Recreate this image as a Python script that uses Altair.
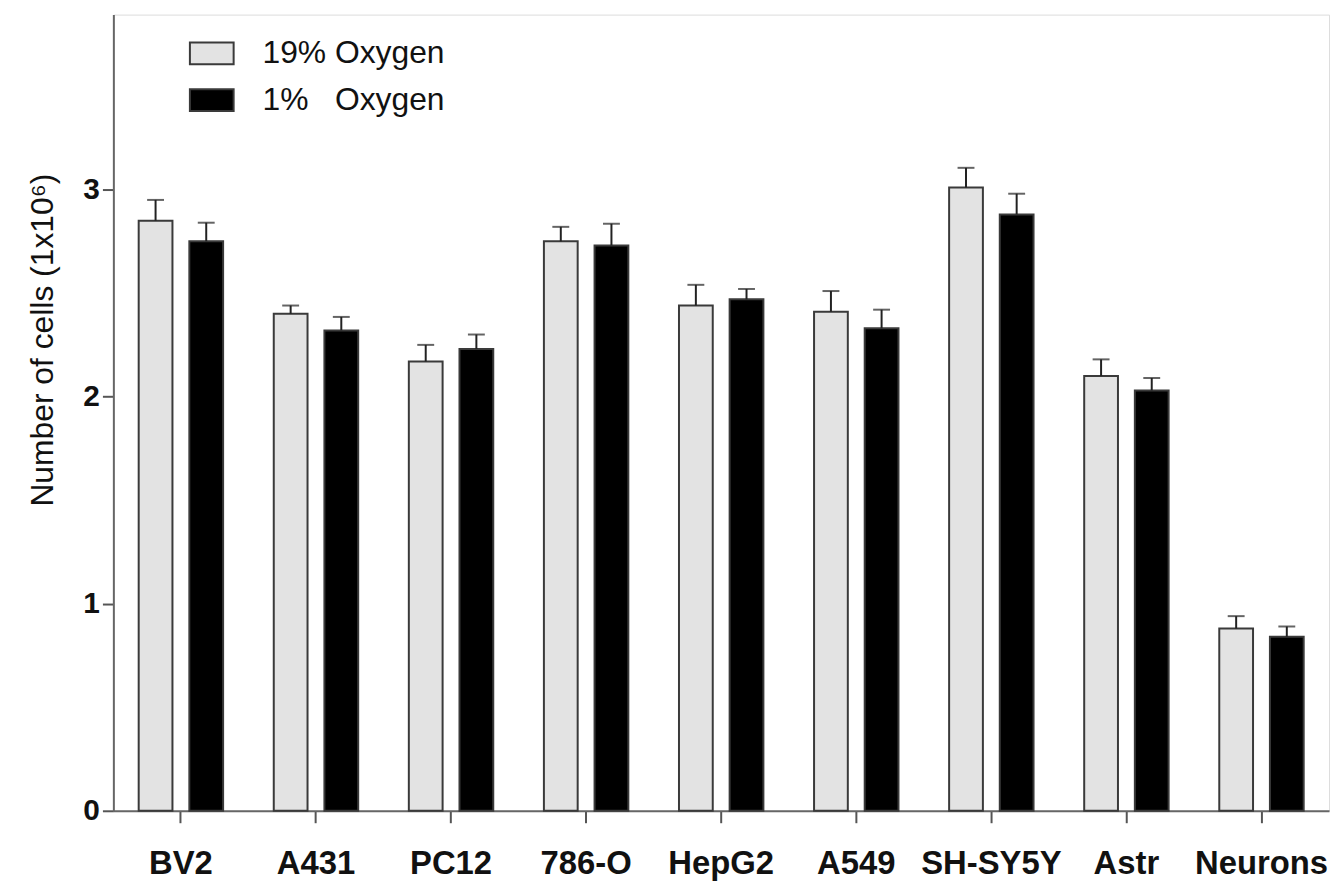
import altair as alt
import pandas as pd

cells = ["BV2", "A431", "PC12", "786-O", "HepG2", "A549", "SH-SY5Y", "Astr", "Neurons"]
series = ["19% Oxygen", "1% Oxygen"]
normoxia = [2.85, 2.40, 2.17, 2.75, 2.44, 2.41, 3.01, 2.10, 0.88]
normoxia_err = [0.10, 0.04, 0.08, 0.07, 0.10, 0.10, 0.095, 0.08, 0.06]
hypoxia = [2.75, 2.32, 2.23, 2.73, 2.47, 2.33, 2.88, 2.03, 0.84]
hypoxia_err = [0.09, 0.065, 0.07, 0.105, 0.05, 0.09, 0.10, 0.06, 0.05]
y_ticks = [0, 1, 2, 3]

rows = []
for i, c in enumerate(cells):
    rows.append({"cell": c, "cond": series[0], "value": normoxia[i], "upper": normoxia[i] + normoxia_err[i]})
    rows.append({"cell": c, "cond": series[1], "value": hypoxia[i], "upper": hypoxia[i] + hypoxia_err[i]})
df = pd.DataFrame(rows)

FONT = "Liberation Sans"

x = alt.X("cell:N", sort=cells, title=None,
          scale=alt.Scale(paddingInner=0.25, paddingOuter=0.125),
          axis=alt.Axis(labelAngle=0, labelFont=FONT, labelFontSize=33, labelFontWeight="bold",
                        labelColor="#111", labelPadding=25, tickSize=12, tickWidth=2,
                        tickColor="#555", domainColor="#666", domainWidth=2, labelLimit=0))
xo = alt.XOffset("cond:N", sort=series,
                 scale=alt.Scale(paddingInner=1/3, paddingOuter=1/6))
yscale = alt.Scale(domain=[0, 3.845], nice=False)

bars = alt.Chart(df).mark_bar(stroke="#3a3a3a", strokeWidth=2).encode(
    x=x, xOffset=xo,
    y=alt.Y("value:Q", scale=yscale, title="Number of cells (1x10⁶)",
            axis=alt.Axis(values=y_ticks, format="d", grid=False, labelFont=FONT,
                          labelFontSize=30, labelFontWeight="bold", labelColor="#111",
                          labelPadding=3, tickSize=11, tickWidth=2, tickColor="#555",
                          domainColor="#666", domainWidth=2,
                          titleFont=FONT, titleFontSize=32, titleFontWeight="normal",
                          titleColor="#111", titleAngle=270, titleBaseline="alphabetic",
                          titleAlign="center", titleX=-61, titleY=327)),
    fill=alt.Fill("cond:N", sort=series,
                  scale=alt.Scale(domain=series, range=["#e3e3e3", "#000000"]),
                  legend=alt.Legend(title=None, orient="none", legendX=76, legendY=16,
                                    symbolType="M-1,-0.5H1V0.5H-1Z", symbolSize=1936,
                                    symbolStrokeColor="#3a3a3a", symbolStrokeWidth=2,
                                    symbolOpacity=1,
                                    labelFont=FONT, labelFontSize=32, labelColor="#111",
                                    labelOffset=28, rowPadding=8, padding=0, labelLimit=0,
                                    labelExpr="datum.label == '1% Oxygen' ? '1%\u00a0\u00a0\u00a0Oxygen' : datum.label")),
)

err = alt.Chart(df).mark_rule(color="#222", strokeWidth=2).encode(
    x=alt.X("cell:N", sort=cells), xOffset=xo,
    y=alt.Y("value:Q", scale=yscale), y2="upper:Q",
)
caps = alt.Chart(df).mark_tick(color="#222", thickness=2, size=17).encode(
    x=alt.X("cell:N", sort=cells), xOffset=xo,
    y=alt.Y("upper:Q", scale=yscale),
)

chart = alt.layer(bars, err, caps).properties(
    width=1223, height=801,
    autosize=alt.AutoSizeParams(type="none"),
    padding={"left": 106, "top": 4, "right": 3, "bottom": 68},
).configure_view(stroke=None).configure(background="white")

chart.save("out.html", embed_options={"renderer": "svg", "actions": False})
